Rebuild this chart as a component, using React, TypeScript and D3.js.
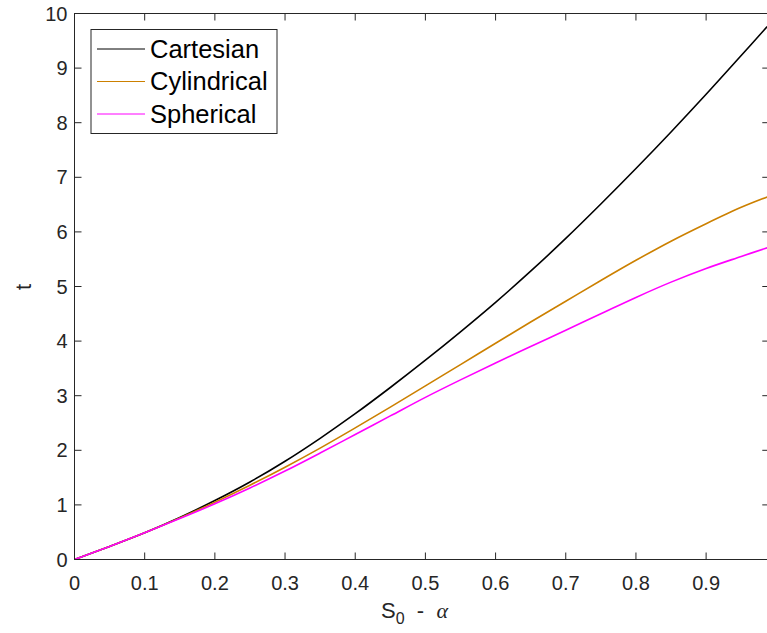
import React from "react";
import * as d3 from "d3";

const xValues = [0, 0.05, 0.1, 0.15, 0.2, 0.25, 0.3, 0.35, 0.4, 0.45, 0.5, 0.55, 0.6, 0.65, 0.7, 0.75, 0.8, 0.85, 0.9, 0.95, 0.987];
const cartesian = [0, 0.24, 0.49, 0.77, 1.08, 1.42, 1.8, 2.22, 2.67, 3.15, 3.65, 4.17, 4.71, 5.28, 5.88, 6.51, 7.16, 7.83, 8.52, 9.23, 9.76];
const cylindrical = [0, 0.24, 0.49, 0.76, 1.05, 1.36, 1.69, 2.04, 2.41, 2.79, 3.18, 3.57, 3.96, 4.35, 4.73, 5.11, 5.48, 5.83, 6.15, 6.45, 6.64];
const spherical = [0, 0.24, 0.49, 0.75, 1.02, 1.31, 1.62, 1.95, 2.29, 2.63, 2.97, 3.29, 3.6, 3.9, 4.2, 4.5, 4.8, 5.08, 5.33, 5.55, 5.71];
const seriesNames = ["Cartesian", "Cylindrical", "Spherical"];
const seriesColors = ["#000000", "#cc8000", "#ff00ff"];
const xTicks = [0, 0.1, 0.2, 0.3, 0.4, 0.5, 0.6, 0.7, 0.8, 0.9];
const yTicks = [0, 1, 2, 3, 4, 5, 6, 7, 8, 9, 10];

const W = 767;
const H = 633;
const left = 74.5;
const top = 13.5;
const bottom = 559.5;
const right = left + 0.99 * 701.8;
const axisColor = "#262626";
const font = "'Liberation Sans', Arial, Helvetica, sans-serif";

export default function App() {
  const x = d3.scaleLinear().domain([0, 0.99]).range([left, right]);
  const y = d3.scaleLinear().domain([0, 10]).range([bottom, top]);
  const line = d3
    .line<[number, number]>()
    .x((d) => x(d[0]))
    .y((d) => y(d[1]))
    .curve(d3.curveCatmullRom.alpha(0.5));
  const series = [cartesian, cylindrical, spherical];
  const tl = 7;

  return (
    <svg
      width={W}
      height={H}
      style={{ position: "absolute", left: 0, top: 0, background: "#fff" }}
      fontFamily={font}
    >
      <rect x={0} y={0} width={W} height={H} fill="#fff" />
      <defs>
        <clipPath id="plotclip">
          <rect x={left} y={top} width={right - left} height={bottom - top} />
        </clipPath>
      </defs>
      <g clipPath="url(#plotclip)">
        {series.map((s, i) => (
          <path
            key={i}
            d={line(xValues.map((xv, j) => [xv, s[j]] as [number, number])) || ""}
            fill="none"
            stroke={seriesColors[i]}
            strokeWidth={1.6}
          />
        ))}
      </g>
      <rect
        x={left}
        y={top}
        width={right - left}
        height={bottom - top}
        fill="none"
        stroke={axisColor}
        strokeWidth={1}
      />
      {xTicks.map((t) => (
        <g key={"x" + t}>
          <line x1={x(t)} x2={x(t)} y1={bottom} y2={bottom - tl} stroke={axisColor} />
          <line x1={x(t)} x2={x(t)} y1={top} y2={top + tl} stroke={axisColor} />
          <text x={x(t)} y={bottom + 30} textAnchor="middle" fontSize={20} fill={axisColor}>
            {t === 0 ? "0" : d3.format(".1f")(t)}
          </text>
        </g>
      ))}
      {yTicks.map((t) => (
        <g key={"y" + t}>
          <line x1={left} x2={left + tl} y1={y(t)} y2={y(t)} stroke={axisColor} />
          <line x1={right} x2={right - tl} y1={y(t)} y2={y(t)} stroke={axisColor} />
          <text x={left - 7} y={y(t) + 7} textAnchor="end" fontSize={20} fill={axisColor}>
            {t}
          </text>
        </g>
      ))}
      <text x={381} y={618} fontSize={22} fill={axisColor}>
        S
        <tspan fontSize={16} dy={6}>0</tspan>
        <tspan dy={-6} xmlSpace="preserve">{"  -  "}</tspan>
        <tspan fontFamily="'Liberation Serif', 'DejaVu Serif', serif" fontStyle="italic">
          α
        </tspan>
      </text>
      <text transform="translate(31,287) rotate(-90)" textAnchor="middle" fontSize={22} fill={axisColor}>
        t
      </text>
      <rect x={91} y={29.5} width={186} height={104} fill="#fff" stroke={axisColor} strokeWidth={1} />
      {seriesNames.map((name, i) => {
        const cy = 49 + i * 32.5;
        return (
          <g key={name}>
            <line x1={97} x2={145} y1={cy} y2={cy} stroke={seriesColors[i]} strokeWidth={1} />
            <text x={150} y={cy + 8.5} fontSize={25.5} fill="#000">
              {name}
            </text>
          </g>
        );
      })}
    </svg>
  );
}
